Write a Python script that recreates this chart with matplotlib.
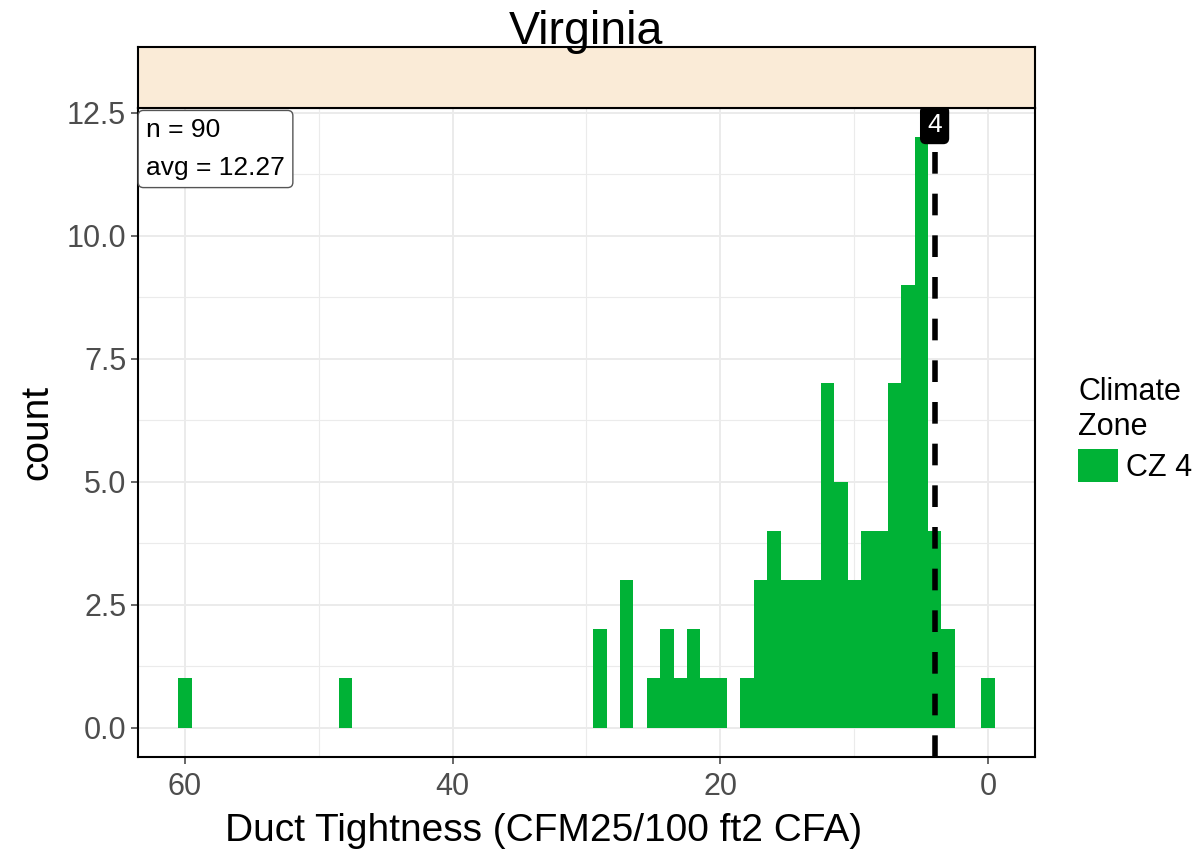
import matplotlib.pyplot as plt
from matplotlib.patches import Patch

plt.rcParams['font.family'] = ['Liberation Sans', 'DejaVu Sans']

# histogram bins (centre of each 1-unit bin) and counts
bin_centers = [60, 48, 29, 27, 25, 24, 23, 22, 21, 20, 18, 17, 16, 15, 14, 13,
               12, 11, 10, 9, 8, 7, 6, 5, 4, 3, 0]
counts = [1, 1, 2, 3, 1, 2, 1, 2, 1, 1, 1, 3, 4, 3, 3, 3,
          7, 5, 3, 4, 4, 7, 9, 12, 4, 2, 1]
code_limit = 4
n_homes = 90
avg_value = 12.27
state = 'Virginia'
zone_label = 'CZ 4'

green = '#00B236'
tick_gray = '#4D4D4D'
grid_col = '#EBEBEB'

fig = plt.figure(figsize=(12, 8.55), dpi=100)
ax = fig.add_axes([0.115, 0.1146, 0.7475, 0.7591])
strip = fig.add_axes([0.115, 0.8737, 0.7475, 0.0713])

ax.bar(bin_centers, counts, width=1.0, color=green, linewidth=0, zorder=2)

ax.set_xlim(63.5, -3.5)
ax.set_ylim(-0.6, 12.6)
ax.set_xticks([60, 40, 20, 0])
ax.set_xticks([50, 30, 10], minor=True)
ax.set_yticks([0, 2.5, 5, 7.5, 10, 12.5])
ax.set_yticklabels(['0.0', '2.5', '5.0', '7.5', '10.0', '12.5'])
ax.set_yticks([1.25, 3.75, 6.25, 8.75, 11.25], minor=True)
ax.grid(which='major', color=grid_col, linewidth=1.4, zorder=0)
ax.grid(which='minor', color=grid_col, linewidth=0.8, zorder=0)
ax.set_axisbelow(True)
ax.tick_params(which='major', labelsize=22, colors=tick_gray, length=5, width=1.2,
               labelcolor=tick_gray)
ax.tick_params(axis='x', which='major', pad=6)
ax.tick_params(which='minor', length=0)
for sp in ax.spines.values():
    sp.set_color('black')
    sp.set_linewidth(1.5)

ax.set_xlabel('Duct Tightness (CFM25/100 ft2 CFA)', fontsize=28)
ax.xaxis.set_label_coords(0.452, -0.086)
ax.set_ylabel('count', fontsize=28, labelpad=8)

# reference line with label
ax.axvline(code_limit, color='black', linewidth=4, linestyle=(0, (3.9, 3.6)), zorder=3)
ax.text(code_limit, 12.5, str(code_limit), color='white', fontsize=19,
        ha='center', va='top', zorder=4,
        bbox=dict(boxstyle='round,pad=0.25,rounding_size=0.2', fc='black', ec='black'))

# n / avg box
ax.text(0.009, 0.984, f'n = {n_homes}\navg = {avg_value}', transform=ax.transAxes,
        fontsize=19, ha='left', va='top', linespacing=1.7, zorder=5,
        bbox=dict(boxstyle='round,pad=0.3,rounding_size=0.2', fc='white', ec='#555555', lw=1))

# strip above panel
strip.set_facecolor('#FAEBD7')
strip.set_xticks([])
strip.set_yticks([])
for sp in strip.spines.values():
    sp.set_color('black')
    sp.set_linewidth(1.5)

fig.text(0.4885, 0.948, state, fontsize=33.5, ha='center', va='baseline')

leg = ax.legend(handles=[Patch(facecolor=green, edgecolor='none', label=zone_label)],
                title='Climate\nZone', loc='upper left', bbox_to_anchor=(1.048, 0.585),
                frameon=False, fontsize=22, title_fontsize=22,
                handlelength=1.3, handleheight=1.3, handletextpad=0.26,
                borderpad=0, borderaxespad=0)
leg._legend_box.align = 'left'
leg._legend_box.sep = 5

fig.savefig('out.png', dpi=100)
